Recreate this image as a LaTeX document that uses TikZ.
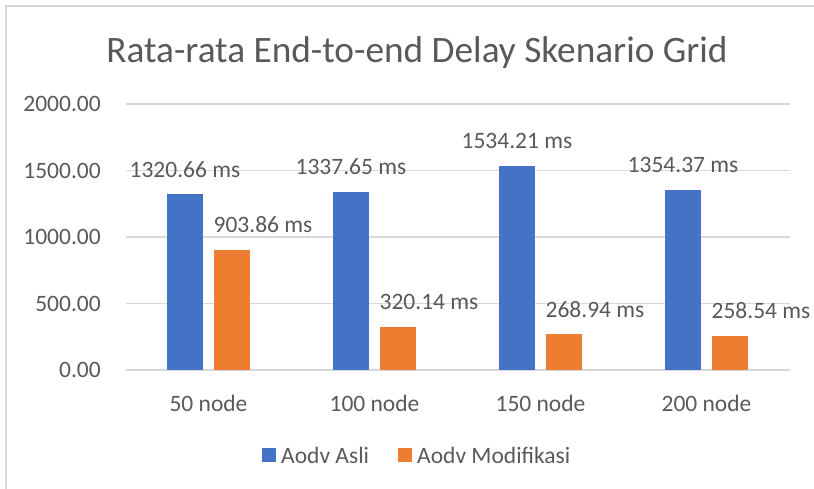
\documentclass[tikz,border=0pt]{standalone}
\usepackage{fontspec}
\setmainfont{Carlito}
\usetikzlibrary{positioning}
\definecolor{asli}{HTML}{4472C4}
\definecolor{modif}{HTML}{ED7D31}
\definecolor{teks}{HTML}{595959}
\definecolor{garis}{HTML}{D9D9D9}
\tikzset{
  label ms/.style={font=\fontsize{23.5}{28}\selectfont, inner sep=0pt},
  kotak/.style={minimum size=14pt, inner sep=0pt, outer sep=0pt},
}
\begin{document}
\begin{tikzpicture}[x=1pt, y=-1pt, font=\fontsize{23.5}{28}\selectfont, text=teks, line join=round]
	\def\ynol{370} \def\skala{0.133} % tinggi per ms
	\def\lebar{36} \def\jarak{166}
	\useasboundingbox (0,0) rectangle (814,488);
	\draw[garis, line width=1.5pt] (6,520) -- (6,6) -- (830,6);
	\node (judul) at (417,53) {\fontsize{37.3}{44}\selectfont Rata-rata End-to-end Delay Skenario Grid};
	% sumbu y
	\foreach \v [count=\i from 0] in {0.00,500.00,1000.00,1500.00,2000.00} {
		\draw[garis, line width=1.2pt] (126,\ynol-66.5*\i) -- (790,\ynol-66.5*\i);
		\node[anchor=east, inner sep=0pt] (t\i) at (101,\ynol-66.5*\i) {\v};
	}
	% batang
	\foreach \a/\m/\n [count=\g from 0] in {1320.66/903.86/50, 1337.65/320.14/100, 1534.21/268.94/150, 1354.37/258.54/200} {
		\pgfmathsetmacro\xa{167+\jarak*\g}
		\pgfmathsetmacro\xm{214+\jarak*\g}
		\fill[asli] (\xa,\ynol) rectangle (\xa+\lebar,\ynol-\skala*\a);
		\fill[modif] (\xm,\ynol) rectangle (\xm+\lebar,\ynol-\skala*\m);
		\node[label ms] (la\g) at (\xa+\lebar/2,\ynol-\skala*\a-25) {\a{} ms};
		\node[label ms] (lm\g) at (\xm+\lebar/2+31,\ynol-\skala*\m-25) {\m{} ms};
		\node (k\g) at (208.5+\jarak*\g,403) {\n{} node};
	}
	% legenda
	\node[kotak, fill=asli] (kA) at (269,455) {};
	\node[right=5pt of kA, inner sep=0pt] (lgA) {Aodv Asli};
	\node[kotak, fill=modif] (kM) at (405,455) {};
	\node[right=5pt of kM, inner sep=0pt] (lgM) {Aodv Modifikasi};
\end{tikzpicture}
\end{document}
